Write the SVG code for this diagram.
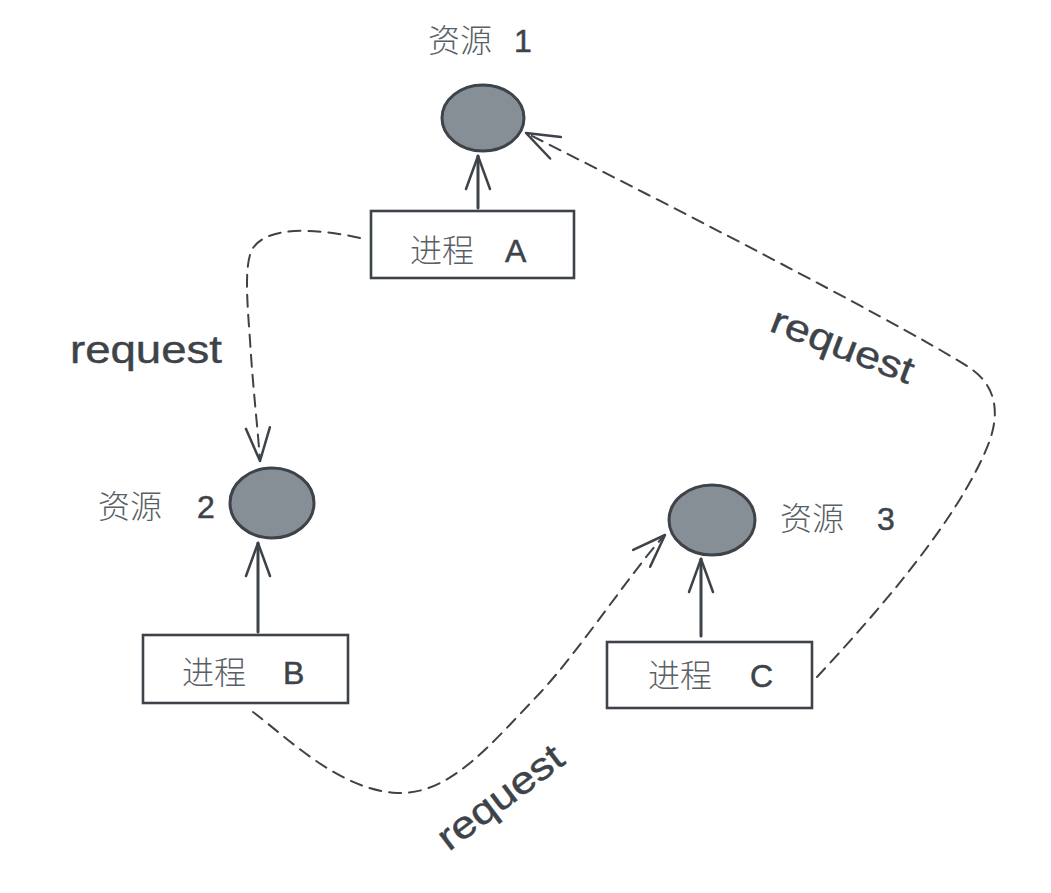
<svg xmlns="http://www.w3.org/2000/svg" width="1051" height="893" viewBox="0 0 1051 893">
<style>
.res{fill:#868e96;stroke:#3d4349;stroke-width:3}
.box{fill:#ffffff;stroke:#3d4349;stroke-width:2.6}
.solid{fill:none;stroke:#3d4349;stroke-width:3;stroke-linecap:round}
.dash{fill:none;stroke:#3d4349;stroke-width:2;stroke-dasharray:12 8;stroke-linecap:round}
.cjk{font-family:"Noto Sans CJK SC","Noto Sans",sans-serif;font-size:32px;font-weight:300;fill:#5a5f65}
.lat{font-family:"Liberation Sans","DejaVu Sans",sans-serif;font-size:32px;fill:#3d4349;stroke:#3d4349;stroke-width:0.5}
.req{font-family:"Liberation Sans","DejaVu Sans",sans-serif;font-size:38px;fill:#3d4349;stroke:#3d4349;stroke-width:0.4}
</style>
<defs>
<marker id="arr" markerUnits="userSpaceOnUse" viewBox="-36 -15 40 30" refX="0" refY="0" markerWidth="40" markerHeight="30" orient="auto" overflow="visible">
<path d="M -33 -12 L 0 0 L -33 12" fill="none" stroke="#3d4349" stroke-width="2.5" stroke-linecap="round" stroke-linejoin="round"/>
</marker>
</defs>
<rect width="1051" height="893" fill="#ffffff"/>

<g id="resource1">
<ellipse class="res" cx="483" cy="118" rx="41" ry="33"/>
<text class="cjk" x="428" y="52">资源 <tspan class="lat" x="514">1</tspan></text>
</g>
<g id="processA">
<rect class="box" x="371" y="211" width="203" height="67"/>
<text class="cjk" x="410" y="262">进程 <tspan class="lat" x="505" font-size="36">A</tspan></text>
</g>
<g id="resource2">
<ellipse class="res" cx="272" cy="503" rx="42" ry="35"/>
<text class="cjk" x="98" y="518">资源 <tspan class="lat" x="197">2</tspan></text>
</g>
<g id="processB">
<rect class="box" x="143" y="635" width="205" height="68"/>
<text class="cjk" x="182" y="684">进程 <tspan class="lat" x="283" font-size="36">B</tspan></text>
</g>
<g id="resource3">
<ellipse class="res" cx="712" cy="520" rx="43" ry="35"/>
<text class="cjk" x="780" y="530">资源 <tspan class="lat" x="877">3</tspan></text>
</g>
<g id="processC">
<rect class="box" x="607" y="642" width="205" height="66"/>
<text class="cjk" x="648" y="687">进程 <tspan class="lat" x="750" font-size="36">C</tspan></text>
</g>

<g id="connectors">
<path class="solid" d="M 478 208 L 478 156" marker-end="url(#arr)"/>
<path class="solid" d="M 258 632 L 258 543" marker-end="url(#arr)"/>
<path class="solid" d="M 701 636 L 701 559" marker-end="url(#arr)"/>
<path class="dash" d="M 360 238 C 315 228, 268 226, 253 248 C 244 262, 247 300, 250 340 C 253 390, 258 430, 260 461" marker-end="url(#arr)"/>
<path class="dash" d="M 253 712 C 290 740, 340 790, 397 793 C 450 795, 490 745, 540 693 C 580 650, 640 560, 665 535" marker-end="url(#arr)"/>
<path class="dash" d="M 817 677 C 870 620, 960 520, 990 440 C 1000 410, 995 385, 970 368 C 920 335, 700 220, 526 133" marker-end="url(#arr)"/>
<text class="req" x="70" y="363" textLength="152" lengthAdjust="spacingAndGlyphs">request</text>
<text class="req" transform="translate(841,350) rotate(21)" x="0" y="8" text-anchor="middle" textLength="150" lengthAdjust="spacingAndGlyphs">request</text>
<text class="req" transform="translate(503,801) rotate(-37)" x="0" y="8" text-anchor="middle" textLength="148" lengthAdjust="spacingAndGlyphs">request</text>
</g>
</svg>
